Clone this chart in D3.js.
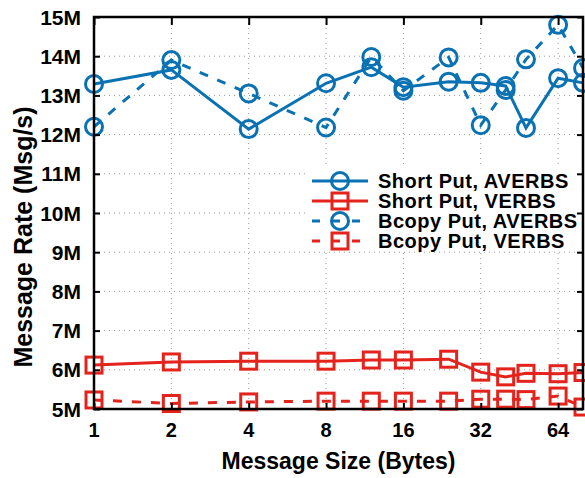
<!DOCTYPE html>
<html>
<head>
<meta charset="utf-8">
<script src="https://cdn.jsdelivr.net/npm/d3@7"></script>
<style>
  body { margin: 0; background: #fff; }
  svg text { font-family: "Liberation Sans", Arial, Helvetica, sans-serif; font-weight: bold; fill: #000; }
</style>
</head>
<body>
<div id="chart"></div>
<script>
var width = 585,
    height = 478;

var margin = {left: 94, right: 2, top: 17, bottom: 69};

// message sizes in bytes
var sizes = [1, 2, 4, 8, 12, 16, 24, 32, 40, 48, 64, 80];
var xTicks = [1, 2, 4, 8, 16, 32, 64];
var yTicks = [5, 6, 7, 8, 9, 10, 11, 12, 13, 14, 15];

// message rate in millions of msg/s
var shortAverbs = [13.29, 13.65, 12.14, 13.31, 13.72, 13.21, 13.35, 13.32, 13.24, 12.17, 13.44, 13.32];
var shortVerbs  = [6.12, 6.20, 6.22, 6.22, 6.25, 6.25, 6.27, 5.94, 5.82, 5.91, 5.90, 5.93];
var bcopyAverbs = [12.20, 13.90, 13.05, 12.18, 13.98, 13.12, 13.97, 12.24, 13.14, 13.92, 14.80, 13.70];
var bcopyVerbs  = [5.23, 5.14, 5.18, 5.20, 5.20, 5.20, 5.20, 5.25, 5.25, 5.24, 5.33, 5.05];

var seriesNames = ["Short Put, AVERBS", "Short Put, VERBS", "Bcopy Put, AVERBS", "Bcopy Put, VERBS"];

var blue = "#0a72b3",
    red = "#e3231c";

var series = [
  {name: seriesNames[0], values: shortAverbs, color: blue, marker: "circle", dashed: false},
  {name: seriesNames[1], values: shortVerbs, color: red, marker: "square", dashed: false},
  {name: seriesNames[2], values: bcopyAverbs, color: blue, marker: "circle", dashed: true},
  {name: seriesNames[3], values: bcopyVerbs, color: red, marker: "square", dashed: true}
];

var x = d3.scaleLog().base(2)
    .domain([1, 80])
    .range([margin.left, width - margin.right]);

var y = d3.scaleLinear()
    .domain([5, 15])
    .range([height - margin.bottom, margin.top]);

var svg = d3.select("#chart").append("svg")
    .attr("width", width)
    .attr("height", height);

var x0 = x.range()[0], x1 = x.range()[1],
    y0 = y.range()[0], y1 = y.range()[1];

/* Grid */
svg.append("g").selectAll("line")
  .data(yTicks.slice(1, -1))
  .enter().append("line")
    .attr("x1", x0).attr("x2", x1)
    .attr("y1", function(d){ return y(d); })
    .attr("y2", function(d){ return y(d); })
    .attr("stroke", "#999")
    .attr("stroke-width", 1)
    .attr("stroke-dasharray", "1,4");

svg.append("g").selectAll("line")
  .data(xTicks.slice(1))
  .enter().append("line")
    .attr("y1", y0).attr("y2", y1)
    .attr("x1", function(d){ return x(d); })
    .attr("x2", function(d){ return x(d); })
    .attr("stroke", "#999")
    .attr("stroke-width", 1)
    .attr("stroke-dasharray", "1,4");

/* Series */
var line = d3.line()
    .x(function(d){ return x(d[0]); })
    .y(function(d){ return y(d[1]); });

function drawMarker(g, kind, color, cx, cy) {
  if (kind == "circle") {
    g.append("circle")
      .attr("cx", cx).attr("cy", cy).attr("r", 8.5)
      .attr("fill", "none")
      .attr("stroke", color)
      .attr("stroke-width", 3);
  } else {
    g.append("rect")
      .attr("x", cx - 8).attr("y", cy - 8)
      .attr("width", 16).attr("height", 16)
      .attr("fill", "none")
      .attr("stroke", color)
      .attr("stroke-width", 3);
  }
}

series.forEach(function(s){
  var pts = sizes.map(function(v, i){ return [v, s.values[i]]; });
  var g = svg.append("g");
  g.append("path")
    .datum(pts)
    .attr("d", line)
    .attr("fill", "none")
    .attr("stroke", s.color)
    .attr("stroke-width", 3)
    .attr("stroke-dasharray", s.dashed ? "9,10" : null);
  pts.forEach(function(p){
    drawMarker(g, s.marker, s.color, x(p[0]), y(p[1]));
  });
});

/* Legend */
var legend = svg.append("g");
legend.append("rect")
  .attr("x", 305).attr("y", 166)
  .attr("width", x1 - 305).attr("height", 83)
  .attr("fill", "#fff");

series.forEach(function(s, i){
  var ly = 181 + i * 20;
  var row = legend.append("g");
  row.append("line")
    .attr("x1", 312).attr("x2", 368)
    .attr("y1", ly).attr("y2", ly)
    .attr("stroke", s.color)
    .attr("stroke-width", 3)
    .attr("stroke-dasharray", s.dashed ? "8,12" : null);
  drawMarker(row, s.marker, s.color, 340, ly);
  row.append("text")
    .attr("x", 378).attr("y", ly)
    .attr("dy", "0.36em")
    .style("font-size", "20px")
    .style("letter-spacing", "0.5px")
    .text(s.name);
});

/* Axes: inward ticks on all four sides */
var fmtM = function(d){ return d + "M"; };

svg.append("g")
  .attr("transform", "translate(" + x0 + ",0)")
  .call(d3.axisRight(y).tickValues(yTicks).tickSize(6).tickFormat(""))
  .call(function(g){ g.select(".domain").remove(); })
  .selectAll("line").attr("stroke-width", 2);

svg.append("g")
  .attr("transform", "translate(" + x1 + ",0)")
  .call(d3.axisLeft(y).tickValues(yTicks).tickSize(6).tickFormat(""))
  .call(function(g){ g.select(".domain").remove(); })
  .selectAll("line").attr("stroke-width", 2);

svg.append("g")
  .attr("transform", "translate(0," + y0 + ")")
  .call(d3.axisTop(x).tickValues(xTicks).tickSize(6).tickFormat(""))
  .call(function(g){ g.select(".domain").remove(); })
  .selectAll("line").attr("stroke-width", 2);

svg.append("g")
  .attr("transform", "translate(0," + y1 + ")")
  .call(d3.axisBottom(x).tickValues(xTicks).tickSize(8).tickFormat(""))
  .call(function(g){ g.select(".domain").remove(); })
  .selectAll("line").attr("stroke-width", 2);

// tick labels
svg.append("g").selectAll("text")
  .data(yTicks)
  .enter().append("text")
    .attr("x", x0 - 13)
    .attr("y", function(d){ return y(d); })
    .attr("dy", "0.36em")
    .attr("text-anchor", "end")
    .style("font-size", "21px")
    .text(fmtM);

svg.append("g").selectAll("text")
  .data(xTicks)
  .enter().append("text")
    .attr("x", function(d){ return x(d); })
    .attr("y", 437)
    .attr("text-anchor", "middle")
    .style("font-size", "20px")
    .text(function(d){ return d; });

// frame
svg.append("rect")
  .attr("x", x0).attr("y", y1)
  .attr("width", x1 - x0).attr("height", y0 - y1)
  .attr("fill", "none")
  .attr("stroke", "#000")
  .attr("stroke-width", 2.5);

/* Titles */
svg.append("text")
  .attr("x", (x0 + x1) / 2)
  .attr("y", 469)
  .attr("text-anchor", "middle")
  .style("font-size", "23px")
  .text("Message Size (Bytes)");

svg.append("text")
  .attr("transform", "translate(32,237) rotate(-90)")
  .attr("text-anchor", "middle")
  .style("font-size", "25px")
  .text("Message Rate (Msg/s)");
</script>
</body>
</html>
